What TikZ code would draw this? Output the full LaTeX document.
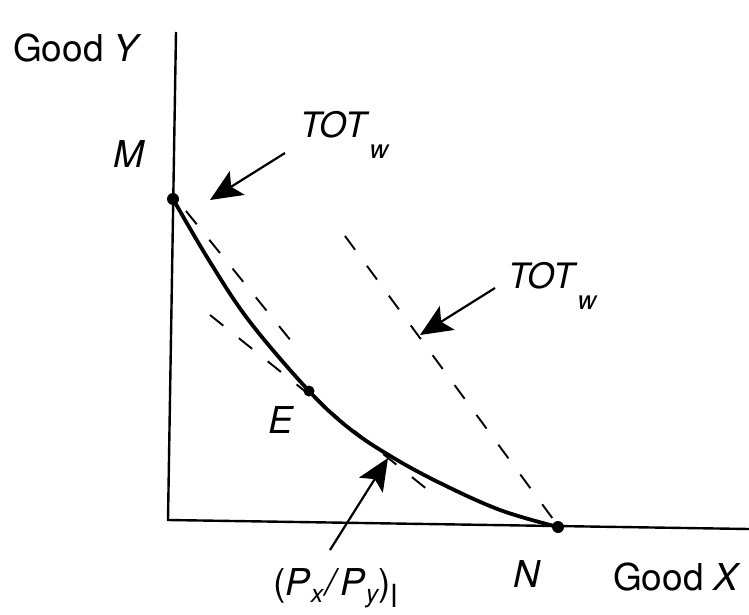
\documentclass[tikz,border=0pt]{standalone}
\usepackage{fontspec}
\setmainfont{TeX Gyre Heros}
\usetikzlibrary{arrows.meta}
\tikzset{
  axis/.style={line width=2.4pt},
  ppf/.style={line width=3.8pt, line cap=round},
  totline/.style={line width=1.9pt, dash pattern=on 17pt off 20pt},
  pointer/.style={line width=2.2pt, -{Stealth[length=32pt,width=28pt,inset=7pt]}},
  dotmark/.style={circle, fill=black, inner sep=0pt, minimum size=12pt},
  lbl/.style={inner sep=0pt, anchor=base west, font=\fontsize{37}{40}\selectfont},
}
\newcommand{\subsc}[1]{\raisebox{-0.6em}{\fontsize{26}{26}\selectfont\itshape #1}}
\newcommand{\smsub}[1]{\raisebox{-0.2em}{\fontsize{25}{25}\selectfont\itshape #1}}
\begin{document}
\begin{tikzpicture}[x=1pt,y=-1pt]
\useasboundingbox (0,0) rectangle (749,615);
% axes
\coordinate (ytop) at (176,32);
\coordinate (O) at (168,520);
\coordinate (xend) at (749,529);
\draw[axis] (ytop) -- (O) -- (xend);
% points
\node[dotmark] (M) at (173,199) {};
\node[dotmark] (N) at (558,527) {};
\node[dotmark, minimum size=11pt] (E) at (309,391) {};
\coordinate (T) at (392,457);
% curve
\draw[ppf] plot[smooth, tension=0.6] coordinates {(173,199) (210,262) (250,322) (309,391) (350,429) (392,457) (440,483) (500,510) (558,527)};
% dashed lines
\coordinate (l1a) at (186,211);
\coordinate (l1b) at (300,352);
\coordinate (l2a) at (345,236);
\coordinate (l2b) at (553,519);
\coordinate (l3a) at (210,315);
\coordinate (l3b) at (428,490);
\draw[totline] (l1a) -- (l1b);
\draw[totline] (l2a) -- (l2b);
\draw[totline] (l3a) -- (l3b);
% labels
\node[lbl] (gy) at (13,62) {Good \textit{Y}};
\node[lbl] (gx) at (613,590) {Good \textit{X}};
\node[lbl] (mlab) at (113,167) {\textit{M}};
\node[lbl] (elab) at (268,433) {\textit{E}};
\node[lbl] (nlab) at (513,587) {\textit{N}};
\node[lbl, font=\fontsize{35}{40}\selectfont] (tot1) at (300,137) {\textit{TOT}\subsc{w}};
\node[lbl, font=\fontsize{35}{40}\selectfont] (tot2) at (508,288) {\textit{TOT}\subsc{w}};
\node[lbl] (ratio) at (273,595) {(\textit{P}\smsub{x}\kern2pt\textit{/}\kern1pt\textit{P}\smsub{y})\smsub{\upshape\textbf{\char"7C}}};
% pointer arrows
\coordinate (a1s) at (285,153);
\coordinate (a1t) at (210,200);
\coordinate (a2s) at (495,288);
\coordinate (a2t) at (420,335);
\coordinate (a3s) at (330,550);
\coordinate (a3t) at (388,458);
\draw[pointer] (a1s) -- (a1t);
\draw[pointer] (a2s) -- (a2t);
\draw[pointer] (a3s) -- (a3t);
\end{tikzpicture}
\end{document}
